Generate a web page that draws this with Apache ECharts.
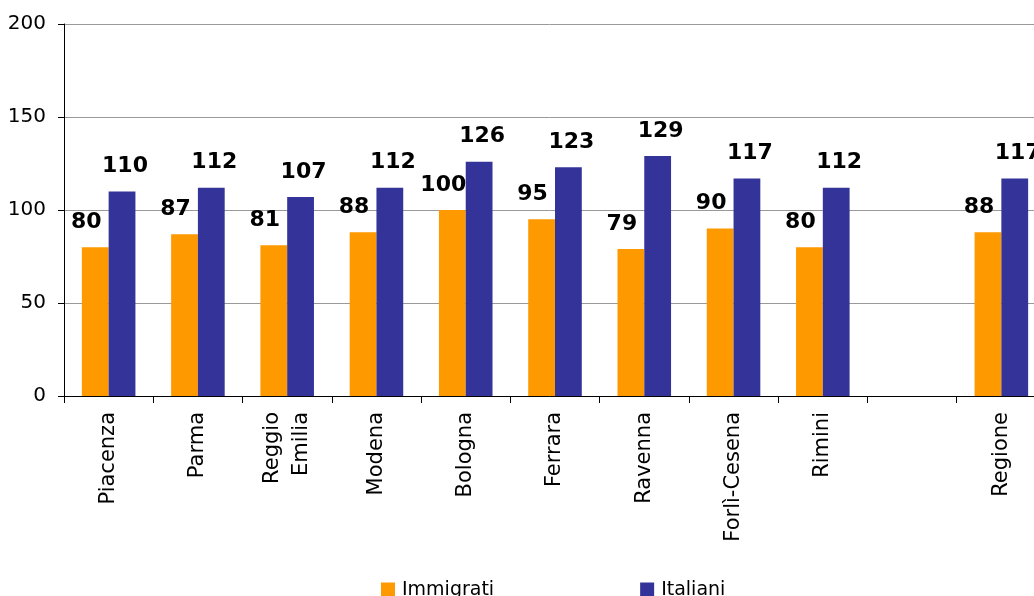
<!DOCTYPE html>
<html>
<head>
<meta charset="utf-8">
<script src="https://cdn.jsdelivr.net/npm/echarts@6/dist/echarts.min.js"></script>
<style>
  html, body { margin: 0; padding: 0; background: #fff; }
  #chart { width: 1034px; height: 596px; }
</style>
</head>
<body>
<div id="chart"></div>
<script>
const categories = ['Piacenza', 'Parma', 'Reggio\nEmilia', 'Modena', 'Bologna', 'Ferrara',
  'Ravenna', 'Forlì-Cesena', 'Rimini', '', 'Regione']
const immigrati = [80, 87, 81, 88, 100, 95, 79, 90, 80, null, 88]
const italiani = [110, 112, 107, 112, 126, 123, 129, 117, 112, null, 117]
const yTicks = { min: 0, max: 200, interval: 50 }

const font = 'DejaVu Sans, Verdana, sans-serif'

const chart = echarts.init(document.getElementById('chart'))

const barLabel = (dx) => ({
  show: true,
  position: 'top',
  distance: 14,
  offset: [dx, 0],
  color: '#000',
  fontFamily: font,
  fontWeight: 'bold',
  fontSize: 22
})

chart.setOption({
  animation: false,
  textStyle: { fontFamily: font },
  // the plot runs a little past the right edge in the original
  grid: { left: 64, right: -12, top: 24, bottom: 200, outerBoundsMode: 'none' },
  legend: {
    top: 576,
    left: 376,
    itemWidth: 14,
    itemHeight: 16,
    itemGap: 146,
    icon: 'rect',
    textStyle: { fontFamily: font, fontSize: 19, color: '#000', padding: [0, 0, 0, 2] },
    data: ['Immigrati', 'Italiani']
  },
  xAxis: {
    type: 'category',
    data: categories,
    axisLine: { lineStyle: { color: '#000', width: 1 } },
    axisTick: { show: true, length: 7, lineStyle: { color: '#000' } },
    axisLabel: {
      rotate: 90,
      interval: 0,
      margin: 16,
      color: '#000',
      fontFamily: font,
      fontSize: 21,
      lineHeight: 29
    }
  },
  yAxis: {
    type: 'value',
    min: yTicks.min,
    max: yTicks.max,
    interval: yTicks.interval,
    axisLine: { show: true, lineStyle: { color: '#000' } },
    axisTick: { show: true, length: 6, lineStyle: { color: '#000' } },
    axisLabel: { color: '#000', fontFamily: font, fontSize: 20, margin: 18 },
    splitLine: { lineStyle: { color: '#999', width: 1 } }
  },
  series: [
    {
      name: 'Immigrati',
      type: 'bar',
      data: immigrati,
      barGap: '0%',
      barCategoryGap: '40%',
      itemStyle: { color: '#FF9900' },
      label: barLabel(-9)
    },
    {
      name: 'Italiani',
      type: 'bar',
      data: italiani,
      itemStyle: { color: '#333399' },
      label: barLabel(3)
    }
  ]
})
</script>
</body>
</html>
